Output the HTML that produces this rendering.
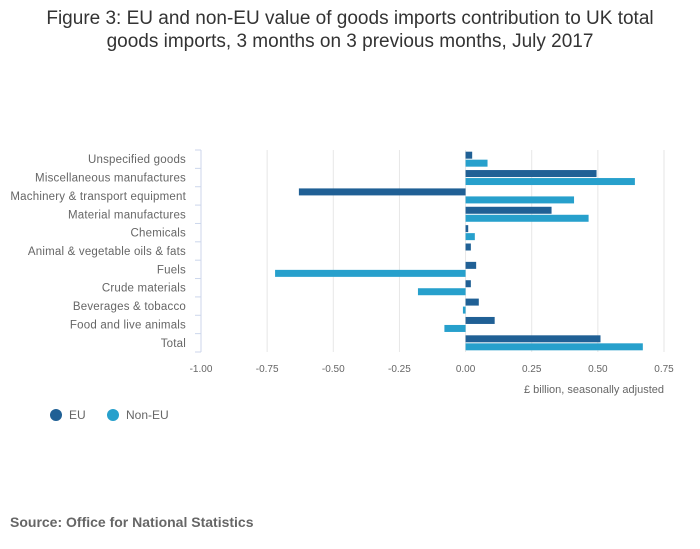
<!DOCTYPE html>
<html><head><meta charset="utf-8"><style>
body{margin:0;background:#fff;font-family:"Liberation Sans",sans-serif;}
svg{display:block}
</style></head><body>
<svg width="700" height="549" id="c">
<text x="350" y="24" text-anchor="middle" font-size="19" fill="#333">Figure 3: EU and non-EU value of goods imports contribution to UK total</text>
<text x="350" y="47" text-anchor="middle" font-size="19" fill="#333">goods imports, 3 months on 3 previous months, July 2017</text>
<g id="grid"></g><g id="bars"></g><g id="labels"></g>
<text x="664" y="393" text-anchor="end" font-size="11" fill="#666">£ billion, seasonally adjusted</text>
<g><circle cx="56" cy="415" r="6" fill="#206095"/><text x="69" y="419" font-size="12" fill="#666">EU</text></g>
<g><circle cx="113" cy="415" r="6" fill="#27a0cc"/><text x="126" y="419" font-size="12" fill="#666">Non-EU</text></g>
<text x="10" y="527" font-size="14" font-weight="bold" fill="#666">Source: Office for National Statistics</text>
</svg>
<script>
const categories=["Unspecified goods","Miscellaneous manufactures","Machinery & transport equipment","Material manufactures","Chemicals","Animal & vegetable oils & fats","Fuels","Crude materials","Beverages & tobacco","Food and live animals","Total"];
const euValues=[0.025,0.495,-0.63,0.325,0.01,0.02,0.04,0.02,0.05,0.11,0.51];
const nonEuValues=[0.083,0.64,0.41,0.465,0.035,0,-0.72,-0.18,-0.01,-0.08,0.67];
const ticks=[-1,-0.75,-0.5,-0.25,0,0.25,0.5,0.75];
const tickLabels=["-1.00","-0.75","-0.50","-0.25","0.00","0.25","0.50","0.75"];
const NS="http://www.w3.org/2000/svg";
const x0=201,x1=664,yTop=150,yBot=352;
const xs=v=>x0+(v+1)/1.75*(x1-x0);
const band=(yBot-yTop)/categories.length;
function mk(p,t,a){const e=document.createElementNS(NS,t);for(const k in a)e.setAttribute(k,a[k]);p.appendChild(e);return e;}
const g=document.getElementById('grid'),b=document.getElementById('bars'),l=document.getElementById('labels');
ticks.forEach((t,i)=>{
 const ln=mk(g,'line',{x1:xs(t),x2:xs(t),y1:yTop,y2:yBot,stroke:'#e6e6e6'});
 
 
 const tx=mk(l,'text',{x:xs(t),y:372,'text-anchor':'middle','font-size':10,fill:'#666'});tx.textContent=tickLabels[i];
 
 
});
for(let i=0;i<=categories.length;i++){const y=yTop+i*band;const tk=mk(g,'line',{x1:195,x2:201,y1:y,y2:y,stroke:'#ccd6eb'});
 
 }
const ax=mk(g,'line',{x1:201,x2:201,y1:yTop,y2:yBot,stroke:'#ccd6eb'});


categories.forEach((c,i)=>{
 const yc=yTop+i*band+band/2;
 const t=mk(l,'text',{x:186,y:yc+4,'text-anchor':'end','font-size':11.5,'letter-spacing':0.2,fill:'#666'});t.textContent=c;
 
 
 [[euValues[i],'#206095',yc-7.5],[nonEuValues[i],'#27a0cc',yc+0.5]].forEach((d,j)=>{
  const xa=xs(0),xb=xs(d[0]);
  const r=mk(b,'rect',{x:Math.min(xa,xb),y:d[2],width:Math.abs(xb-xa),height:7,fill:d[1]});
  
  
 });
});
</script>
</body></html>
